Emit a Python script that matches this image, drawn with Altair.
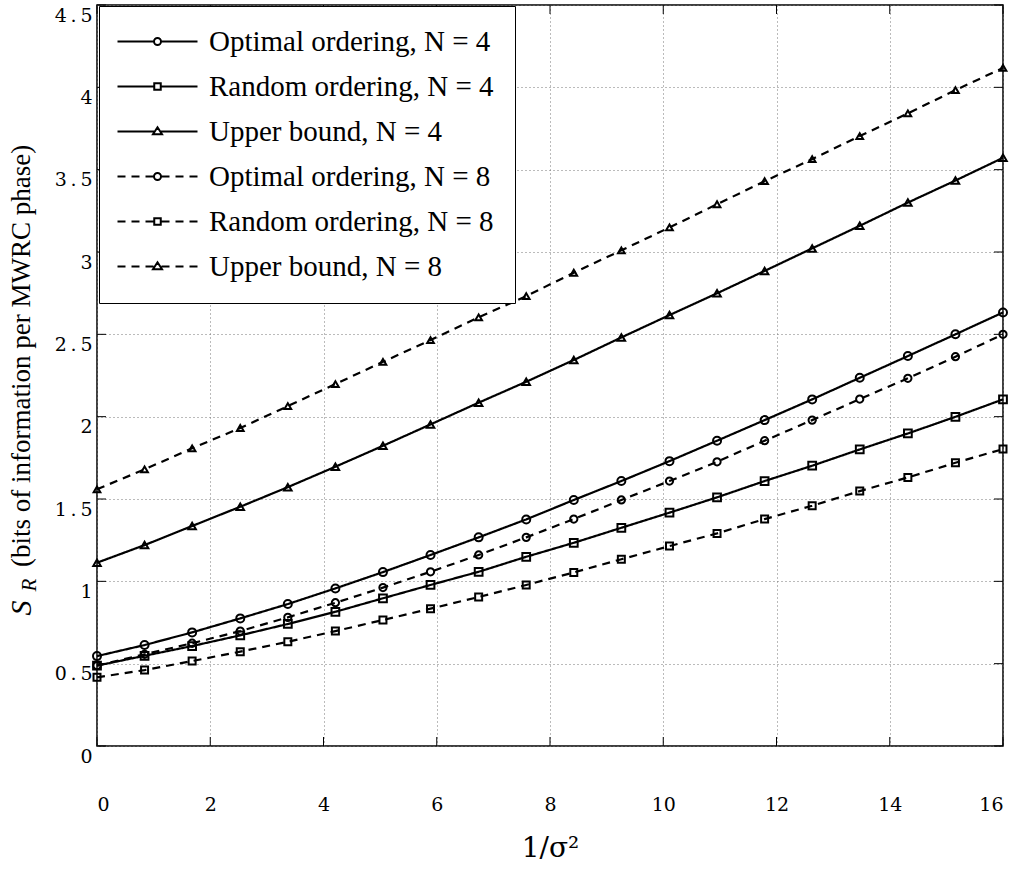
import altair as alt
import pandas as pd

# ---------------- data ----------------
x_vals = [0.0, 0.84, 1.68, 2.53, 3.37, 4.21, 5.05, 5.89, 6.74, 7.58,
          8.42, 9.26, 10.11, 10.95, 11.79, 12.63, 13.47, 14.32, 15.16, 16.0]

series_names = [
    "Optimal ordering, N = 4",
    "Random ordering, N = 4",
    "Upper bound, N = 4",
    "Optimal ordering, N = 8",
    "Random ordering, N = 8",
    "Upper bound, N = 8",
]

opt4 = [0.546, 0.613, 0.690, 0.775, 0.862, 0.957, 1.056, 1.160, 1.267, 1.376,
        1.494, 1.609, 1.730, 1.854, 1.979, 2.105, 2.236, 2.368, 2.500, 2.633]
rnd4 = [0.488, 0.548, 0.607, 0.672, 0.741, 0.815, 0.897, 0.978, 1.058, 1.149,
        1.234, 1.325, 1.417, 1.510, 1.609, 1.702, 1.801, 1.898, 1.999, 2.105]
ub4 = [1.113, 1.220, 1.336, 1.453, 1.572, 1.696, 1.823, 1.953, 2.085, 2.212,
       2.344, 2.481, 2.617, 2.749, 2.885, 3.022, 3.159, 3.300, 3.434, 3.572]
opt8 = [0.488, 0.557, 0.624, 0.698, 0.781, 0.870, 0.962, 1.058, 1.160, 1.267,
        1.378, 1.494, 1.609, 1.726, 1.854, 1.979, 2.107, 2.233, 2.364, 2.500]
rnd8 = [0.417, 0.461, 0.516, 0.573, 0.633, 0.698, 0.765, 0.834, 0.905, 0.978,
        1.054, 1.134, 1.214, 1.291, 1.378, 1.459, 1.548, 1.631, 1.720, 1.803]
ub8 = [1.559, 1.680, 1.808, 1.931, 2.064, 2.198, 2.333, 2.465, 2.603, 2.732,
       2.874, 3.010, 3.149, 3.290, 3.430, 3.564, 3.704, 3.842, 3.983, 4.118]

x_ticks = [0, 2, 4, 6, 8, 10, 12, 14, 16]
y_ticks = [0, 0.5, 1, 1.5, 2, 2.5, 3, 3.5, 4, 4.5]

# ---------------- tables ----------------
rows = []
for name, ys in zip(series_names, [opt4, rnd4, ub4, opt8, rnd8, ub8]):
    for xv, yv in zip(x_vals, ys):
        rows.append({"x": xv, "y": yv, "series": name})
df = pd.DataFrame(rows)
xt = pd.DataFrame({"x": x_ticks})
yt = pd.DataFrame({"y": y_ticks})

W, H = 906, 741
FONT = "Liberation Serif"
TICKFONT = "DejaVu Serif"

x_enc = alt.X("x:Q", scale=alt.Scale(domain=[0, 16], nice=False, zero=False),
              axis=alt.Axis(values=x_ticks, title="1/σ²", grid=True, ticks=False, tickSize=0,
                            domain=False, labelFont=TICKFONT, labelFontSize=19,
                            labelPadding=49, labelColor="black",
                            titleFont=TICKFONT, titleFontSize=28, titleFontWeight="normal",
                            titleColor="black", titleY=102, titleBaseline="middle",
                            gridDash=[1, 3], gridColor="#777", gridWidth=1))
y_enc = alt.Y("y:Q", scale=alt.Scale(domain=[0, 4.5], nice=False),
              axis=alt.Axis(values=y_ticks, title=None, grid=True, ticks=False, tickSize=0,
                            domain=False, labelFont=TICKFONT, labelFontSize=19,
                            labelPadding=5, labelOffset=10, labelColor="black",
                            labelExpr="replace(format(datum.value, '~g'), '.', '\u2009.\u2009')",
                            gridDash=[1, 3], gridColor="#777", gridWidth=1))

dash_range = [[1, 0], [1, 0], [1, 0], [8, 6], [8, 6], [8, 6]]

lines = alt.Chart(df).mark_line(color="black", strokeWidth=2.2).encode(
    x=x_enc, y=y_enc, detail="series:N",
    strokeDash=alt.StrokeDash("series:N", scale=alt.Scale(domain=series_names, range=dash_range),
                              legend=None),
)

points = alt.Chart(df).mark_point(filled=False, color="black", strokeWidth=2, opacity=1).encode(
    x=x_enc, y=y_enc,
    shape=alt.Shape("series:N", scale=alt.Scale(domain=series_names,
                                                 range=["circle", "square", "triangle-up"] * 2),
                    legend=None),
    size=alt.Size("series:N", scale=alt.Scale(domain=series_names,
                                               range=[64, 45, 100, 64, 45, 100]),
                  legend=None),
)

# legend symbols: line (solid or dashed) with a marker in the middle
circ = "M0.7,0A0.7,0.7,0,1,1,-0.7,0A0.7,0.7,0,1,1,0.7,0Z"
sq = "M-0.65,-0.65H0.65V0.65H-0.65Z"
tri = "M0,-0.85L0.9,0.55H-0.9Z"
solid_l = "M-8,0H-0.7M0.7,0H8"
dash_l = "M-8,0H-6.4M-5.2,0H-3.6M-2.4,0H-0.8M0.8,0H2.4M3.6,0H5.2M6.4,0H8"
legend_paths = [solid_l + circ, solid_l + sq, solid_l + tri,
                dash_l + circ, dash_l + sq, dash_l + tri]

legend_layer = alt.Chart(df).mark_point(opacity=0).encode(
    x=x_enc, y=y_enc,
    shape=alt.Shape("series:N", scale=alt.Scale(domain=series_names, range=legend_paths),
                    legend=alt.Legend(title=None, orient="none", legendX=2, legendY=1,
                                      padding=21, strokeColor="black", fillColor="white",
                                      symbolSize=100, symbolStrokeWidth=2,
                                      symbolStrokeColor="black", symbolFillColor="white",
                                      symbolOpacity=1, symbolOffset=23, labelOffset=37,
                                      labelFont=FONT, labelFontSize=29, labelColor="black",
                                      labelLimit=0, rowPadding=15)),
)

tick_l = alt.Chart(yt).mark_rule(color="black", strokeWidth=1).encode(
    y=y_enc, x=alt.value(0), x2=alt.value(9))
tick_r = alt.Chart(yt).mark_rule(color="black", strokeWidth=1).encode(
    y=y_enc, x=alt.value(W), x2=alt.value(W - 9))
tick_b = alt.Chart(xt).mark_rule(color="black", strokeWidth=1).encode(
    x=x_enc, y=alt.value(H), y2=alt.value(H - 9))
tick_t = alt.Chart(xt).mark_rule(color="black", strokeWidth=1).encode(
    x=x_enc, y=alt.value(0), y2=alt.value(9))

# y axis title: S with subscript R, then description
t_s = alt.Chart(pd.DataFrame({"t": ["S"]})).mark_text(
    font=FONT, fontSize=30, fontStyle="italic", angle=270, align="center", baseline="middle",
    color="black").encode(text="t:N", x=alt.value(-75), y=alt.value(603))
t_r = alt.Chart(pd.DataFrame({"t": ["R"]})).mark_text(
    font=FONT, fontSize=21, fontStyle="italic", angle=270, align="center", baseline="middle",
    color="black").encode(text="t:N", x=alt.value(-67), y=alt.value(580))
t_rest = alt.Chart(pd.DataFrame({"t": ["(bits of information per MWRC phase)"]})).mark_text(
    font=FONT, fontSize=27, angle=270, align="left", baseline="middle",
    color="black").encode(text="t:N", x=alt.value(-75), y=alt.value(562))

chart = alt.layer(
    tick_l, tick_r, tick_b, tick_t, lines, points, legend_layer, t_s, t_r, t_rest
).resolve_scale(shape="independent").properties(
    width=W, height=H,
    autosize=alt.AutoSizeParams(type="none"),
    padding={"left": 97, "top": 5, "right": 18, "bottom": 127},
    background="white",
).configure_view(stroke="black", strokeWidth=1.5).configure_text(font=FONT)

chart.save("out.html", embed_options={"renderer": "svg", "actions": False})
